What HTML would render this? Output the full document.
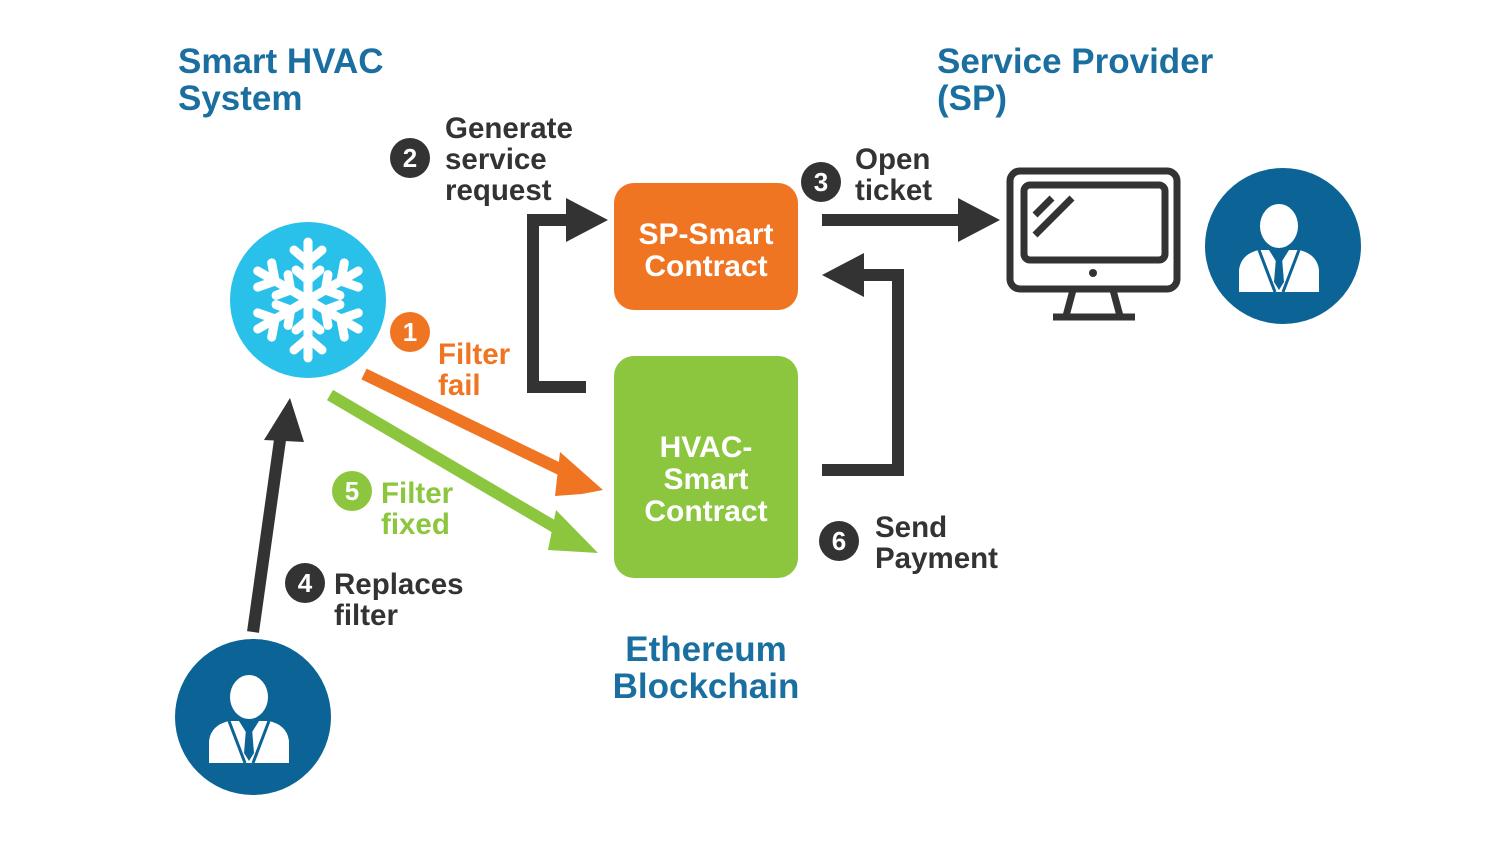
<!DOCTYPE html>
<html><head><meta charset="utf-8"><style>
html,body{margin:0;padding:0;background:#fff;}
svg{display:block}
text{font-family:"Liberation Sans",sans-serif;font-weight:bold;}
</style></head><body>
<svg width="1500" height="844" viewBox="0 0 1500 844" xmlns="http://www.w3.org/2000/svg">
<defs>
<g id="person">
  <path d="M-40,40 L-40,18 Q-38,2 -20,-2 L20,-2 Q38,2 40,18 L40,40 Z" fill="#fff"/>
  <ellipse cx="0" cy="-26" rx="19" ry="22" fill="#fff"/>
  <path d="M-10,-2 L0,14 L10,-2 Z" fill="#0b6396"/>
  <path d="M-3,6 L3,6 L5,30 L0,38 L-5,30 Z" fill="#0b6396"/>
  <path d="M-20,-2 L-4,40 M20,-2 L4,40" stroke="#0b6396" stroke-width="3"/>
</g>
</defs>

<g fill="#1a6fa0" font-size="35">
<text x="178" y="73">Smart HVAC</text>
<text x="178" y="110">System</text>
<text x="937" y="73">Service Provider</text>
<text x="937" y="110">(SP)</text>
<text x="706" y="661" text-anchor="middle">Ethereum</text>
<text x="706" y="698" text-anchor="middle">Blockchain</text>
</g>

<circle cx="308" cy="300" r="78" fill="#29c0ea"/>
<g stroke="#fff" stroke-width="9" stroke-linecap="round" fill="none" transform="translate(308,300)">
  <g id="arm">
    <line x1="0" y1="0" x2="0" y2="-58"/>
    <polyline points="-14,-50 0,-38 14,-50"/>
    <polyline points="-12,-30 0,-20 12,-30"/>
  </g>
  <use href="#arm" transform="rotate(60)"/>
  <use href="#arm" transform="rotate(120)"/>
  <use href="#arm" transform="rotate(180)"/>
  <use href="#arm" transform="rotate(240)"/>
  <use href="#arm" transform="rotate(300)"/>
</g>

<rect x="614" y="183" width="184" height="127" rx="20" fill="#f07522"/>
<rect x="614" y="356" width="184" height="222" rx="20" fill="#8cc63f"/>
<g fill="#fff" font-size="30" text-anchor="middle">
<text x="706" y="244">SP-Smart</text>
<text x="706" y="276">Contract</text>
<text x="706" y="457">HVAC-</text>
<text x="706" y="489">Smart</text>
<text x="706" y="521">Contract</text>
</g>

<g fill="none" stroke="#333" stroke-width="7">
<rect x="1010" y="171" width="167" height="118" rx="10"/>
<rect x="1024" y="185" width="141" height="75" rx="6"/>
<line x1="1035" y1="215" x2="1052" y2="198"/>
<line x1="1035" y1="235" x2="1072" y2="198"/>
<line x1="1073" y1="290" x2="1066" y2="316"/>
<line x1="1113" y1="290" x2="1120" y2="316"/>
<line x1="1053" y1="317" x2="1135" y2="317"/>
</g>
<circle cx="1093" cy="273" r="4" fill="#333"/>

<circle cx="1283" cy="246" r="78" fill="#0b6396"/>
<use href="#person" transform="translate(1279,252)"/>
<circle cx="253" cy="717" r="78" fill="#0b6396"/>
<use href="#person" transform="translate(249,723)"/>

<g fill="none" stroke="#333" stroke-width="12">
<polyline points="586,387 533,387 533,220 575,220"/>
<line x1="822" y1="220" x2="962" y2="220"/>
<polyline points="822,470 898,470 898,275 860,275"/>
<line x1="253" y1="632" x2="280" y2="440"/>
</g>
<g fill="#333">
<polygon points="566,198 608,220 566,242"/>
<polygon points="958,198 1000,220 958,242"/>
<polygon points="864,253 822,275 864,297"/>
<polygon points="264,440 304,442 290,398"/>
</g>
<line x1="364" y1="374" x2="570" y2="474" stroke="#f07522" stroke-width="12"/>
<polygon points="560,452 603,490 582,494 555,496" fill="#f07522"/>
<line x1="330" y1="395" x2="565" y2="533" stroke="#8cc63f" stroke-width="12"/>
<polygon points="556,510 598,553 548,550" fill="#8cc63f"/>

<g font-size="26" text-anchor="middle" fill="#fff">
<circle cx="410" cy="158" r="20" fill="#333"/><text x="410" y="167">2</text>
<circle cx="821" cy="182" r="20" fill="#333"/><text x="821" y="191">3</text>
<circle cx="410" cy="332" r="20" fill="#f07522"/><text x="410" y="341">1</text>
<circle cx="352" cy="491" r="20" fill="#8cc63f"/><text x="352" y="500">5</text>
<circle cx="305" cy="583" r="20" fill="#333"/><text x="305" y="592">4</text>
<circle cx="839" cy="541" r="20" fill="#333"/><text x="839" y="550">6</text>
</g>

<g font-size="29.5" fill="#333">
<text x="445" y="138">Generate</text>
<text x="445" y="169">service</text>
<text x="445" y="200">request</text>
<text x="855" y="169">Open</text>
<text x="855" y="200">ticket</text>
<text x="875" y="537">Send</text>
<text x="875" y="568">Payment</text>
<text x="334" y="594">Replaces</text>
<text x="334" y="625">filter</text>
</g>
<g font-size="29.5" fill="#f07522">
<text x="438" y="364">Filter</text>
<text x="438" y="395">fail</text>
</g>
<g font-size="29.5" fill="#8cc63f">
<text x="381" y="503">Filter</text>
<text x="381" y="534">fixed</text>
</g>
</svg>
</body></html>
